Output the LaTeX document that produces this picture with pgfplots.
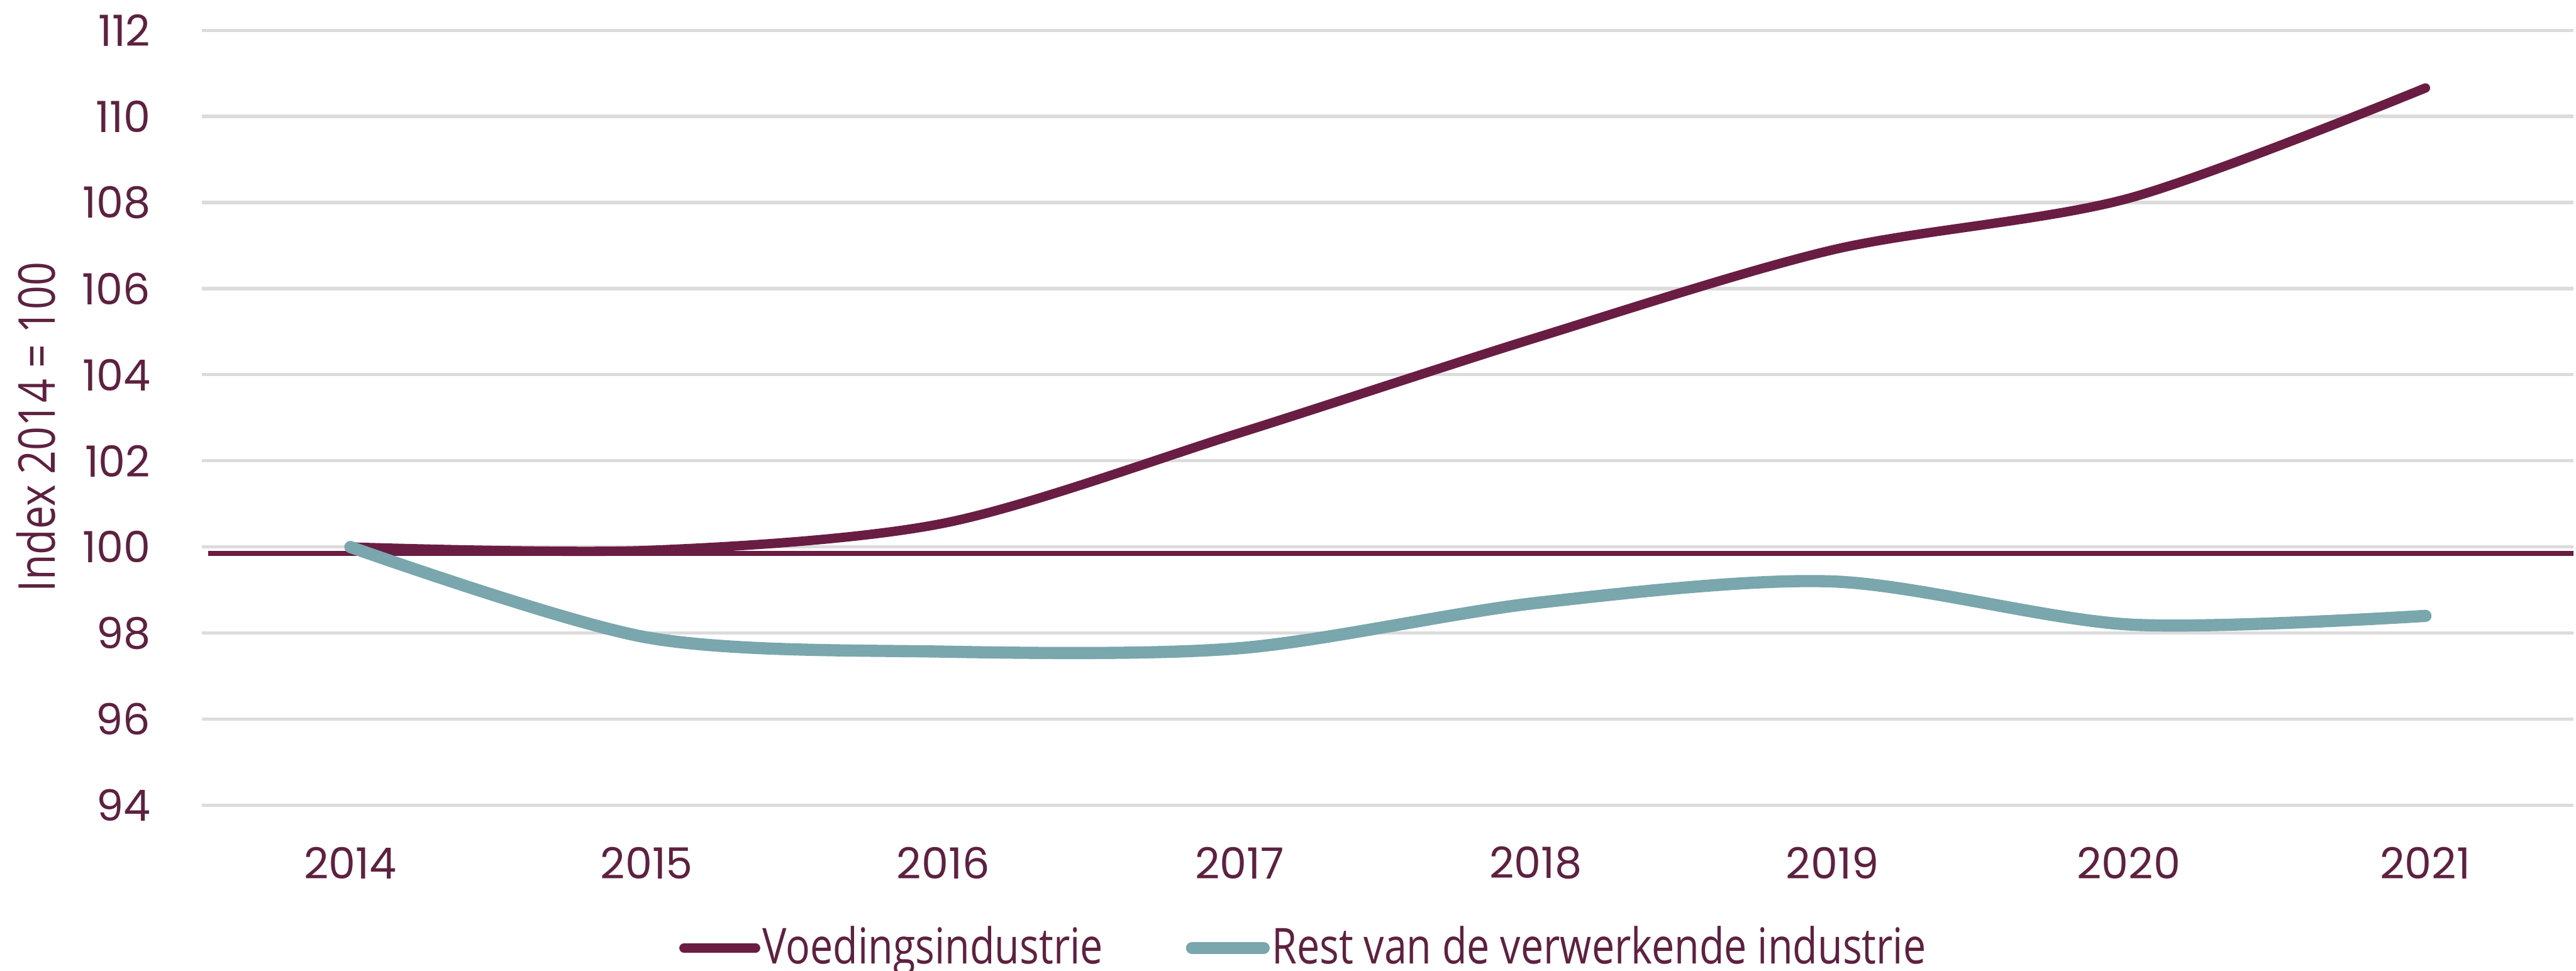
\documentclass[border=0pt]{standalone}
\usepackage{fontspec}
\setmainfont{Open Sans}
\newfontfamily\tickfont{Poppins}
\newfontfamily\condfont[FakeStretch=0.82]{Open Sans}
\usepackage{pgfplots}
\pgfplotsset{compat=1.18}
\definecolor{maroon}{RGB}{106,29,66}
\definecolor{tealc}{RGB}{122,166,173}
\definecolor{txt}{RGB}{94,33,64}
\definecolor{gridc}{RGB}{220,220,220}
\begin{document}
\begin{tikzpicture}
\path[use as bounding box] (0,0) rectangle (22.3cm,8.402cm);
\begin{axis}[
  at={(1.75cm,1.43cm)}, anchor=south west,
  scale only axis, width=20.53cm, height=6.71cm,
  xmin=2013.5, xmax=2021.5, ymin=94, ymax=112,
  xtick={2014,...,2021}, ytick={94,96,...,112},
  axis line style={draw=none}, tick style={draw=none},
  ymajorgrids, grid style={gridc, line width=0.8pt},
  /pgf/number format/1000 sep={},
  /pgf/number format/assume math mode=true,
  ticklabel style={font=\tickfont\fontsize{10.6}{12}\selectfont, color=txt},
  yticklabel style={anchor=east, inner sep=0pt, xshift=-0.44cm},
  xticklabel style={anchor=center, inner sep=0pt, yshift=-0.5cm},
  every axis y label/.style={at={(rel axis cs:0,0.488)}, xshift=-1.44cm, rotate=90, anchor=center, font=\condfont\fontsize{12.5}{14}\selectfont, color=txt},
  ylabel={Index 2014 = 100},
  legend style={at={(0.4645,-0.184)}, anchor=center, draw=none, fill=none,
    legend columns=2, font=\condfont\fontsize{12.2}{14}\selectfont, text=txt,
    /tikz/every even column/.append style={column sep=0.7cm},
    inner sep=0pt, nodes={inner sep=0.5pt}},
  legend image code/.code={\draw[#1, line cap=round] (0cm,0cm) -- (0.62cm,0cm);},
]
\addplot[maroon, line width=1.1pt, forget plot] coordinates {(2013.52,99.85) (2021.5,99.85)};
\addplot[maroon, line width=2.3pt, smooth, line cap=round] coordinates {
(2014,100) (2015,99.92) (2016,100.55) (2017,102.65) (2018,104.86) (2019,106.9) (2020,108.1) (2021,110.66)};
\addlegendentry{Voedingsindustrie}
\addplot[tealc, line width=3pt, smooth, line cap=round] coordinates {
(2014,100) (2015,97.9) (2016,97.57) (2017,97.65) (2018,98.7) (2019,99.2) (2020,98.2) (2021,98.4)};
\addlegendentry{Rest van de verwerkende industrie}
\end{axis}
\end{tikzpicture}
\end{document}
